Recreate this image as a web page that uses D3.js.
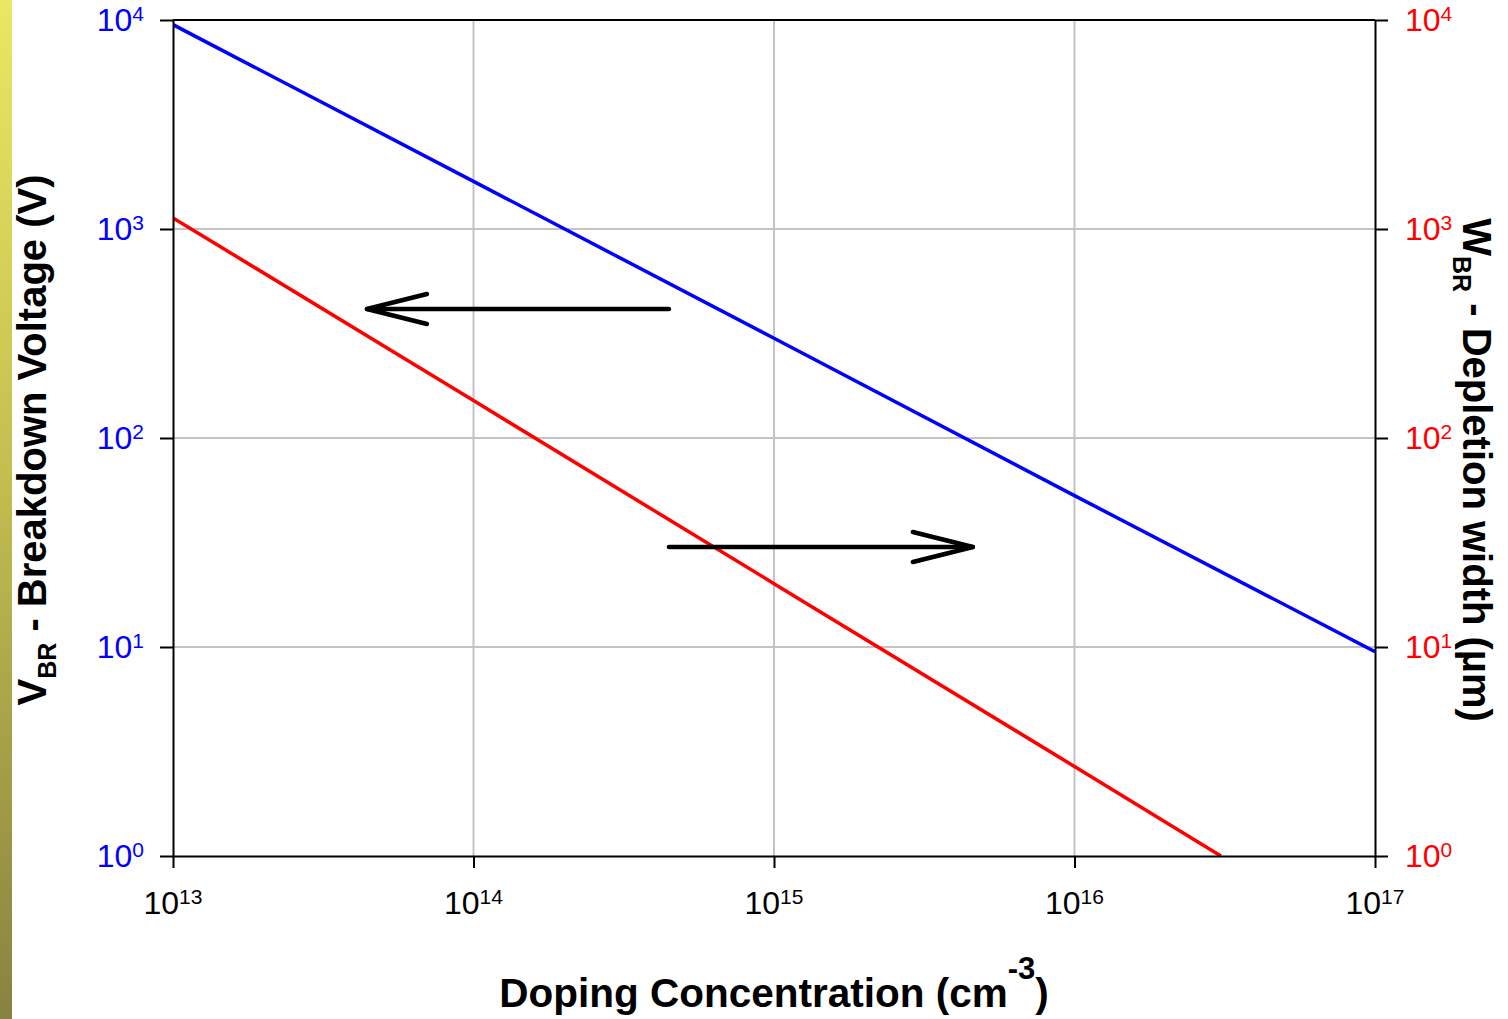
<!DOCTYPE html>
<html>
<head>
<meta charset="utf-8">
<script src="https://cdn.jsdelivr.net/npm/d3@7"></script>
<style>
  html, body { margin: 0; padding: 0; background: #fff; }
  svg { display: block; font-family: "Liberation Sans", Arial, Helvetica, sans-serif; }
</style>
</head>
<body>
<svg id="chart" width="1508" height="1019"></svg>
<script>
// Doping concentration (cm^-3) at which each curve is sampled
const voltageDoping = [1e13, 1e14, 1e15, 1e16, 1e17];
// Breakdown voltage V_BR (V), left axis
const breakdownVoltage = [9500, 1690, 300, 53, 9.5];

const widthDoping = [1e13, 1e14, 1e15, 1e16, 3.07e16];
// Depletion width at breakdown W_BR (um), right axis
const depletionWidth = [1130, 151, 20.1, 2.68, 1.0];

// Axis ticks (powers of ten)
const xTickExponents = [13, 14, 15, 16, 17];
const yTickExponents = [0, 1, 2, 3, 4];

// Annotation arrows: [from doping, to doping, level]
const leftArrow = { from: 4.47e14, to: 4.42e13, level: 414 };
const rightArrow = { from: 4.47e14, to: 4.59e15, level: 30.1 };

const W = 1508, H = 1019;
const plot = { left: 173, right: 1375, top: 20, bottom: 856 };
const font = '"Liberation Sans", Arial, Helvetica, sans-serif';

const svg = d3.select('#chart');

// Side strip gradient
const defs = svg.append('defs');
const grad = defs.append('linearGradient')
  .attr('id', 'stripGrad').attr('x1', 0).attr('y1', 0).attr('x2', 0).attr('y2', 1);
grad.append('stop').attr('offset', '0%').attr('stop-color', '#e9e862');
grad.append('stop').attr('offset', '45%').attr('stop-color', '#c4c050');
grad.append('stop').attr('offset', '100%').attr('stop-color', '#878340');
svg.append('rect').attr('x', 0).attr('y', 0).attr('width', 12).attr('height', H)
  .attr('fill', 'url(#stripGrad)');

defs.append('clipPath').attr('id', 'plotClip')
  .append('rect')
  .attr('x', plot.left).attr('y', plot.top)
  .attr('width', plot.right - plot.left).attr('height', plot.bottom - plot.top);

const x = d3.scaleLog().domain([1e13, 1e17]).range([plot.left, plot.right]);
const yLeft = d3.scaleLog().domain([1, 1e4]).range([plot.bottom, plot.top]);
const yRight = d3.scaleLog().domain([1, 1e4]).range([plot.bottom, plot.top]);

const xTicks = xTickExponents.map(e => Math.pow(10, e));
const yTicks = yTickExponents.map(e => Math.pow(10, e));

// Grid lines
const grid = svg.append('g').attr('stroke', '#c3c3c3').attr('stroke-width', 2);
grid.selectAll('line.v').data(xTicks.slice(1, -1)).join('line')
  .attr('x1', d => x(d)).attr('x2', d => x(d))
  .attr('y1', plot.top).attr('y2', plot.bottom);
grid.selectAll('line.h').data(yTicks.slice(1, -1)).join('line')
  .attr('y1', d => yLeft(d)).attr('y2', d => yLeft(d))
  .attr('x1', plot.left).attr('x2', plot.right);

// Curves
const lineV = d3.line().x(d => x(d[0])).y(d => yLeft(d[1]));
const lineW = d3.line().x(d => x(d[0])).y(d => yRight(d[1]));
const curves = svg.append('g').attr('clip-path', 'url(#plotClip)');
curves.append('path')
  .datum(voltageDoping.map((n, i) => [n, breakdownVoltage[i]]))
  .attr('d', lineV).attr('fill', 'none').attr('stroke', '#0000ff').attr('stroke-width', 3.5);
curves.append('path')
  .datum(widthDoping.map((n, i) => [n, depletionWidth[i]]))
  .attr('d', lineW).attr('fill', 'none').attr('stroke', '#ff0000').attr('stroke-width', 3.5);

// Axes
function styleAxis(g) {
  g.selectAll('path.domain').attr('stroke', '#000').attr('stroke-width', 2);
  g.selectAll('.tick line').attr('stroke', '#000').attr('stroke-width', 2);
  g.selectAll('.tick text').remove();
}
svg.append('g').attr('transform', `translate(0,${plot.bottom})`)
  .call(d3.axisBottom(x).tickValues(xTicks).tickSize(12).tickSizeOuter(0).tickFormat(''))
  .call(styleAxis);
svg.append('g').attr('transform', `translate(${plot.left},0)`)
  .call(d3.axisLeft(yLeft).tickValues(yTicks).tickSize(13).tickSizeOuter(0).tickFormat(''))
  .call(styleAxis);
svg.append('g').attr('transform', `translate(${plot.right},0)`)
  .call(d3.axisRight(yRight).tickValues(yTicks).tickSize(13).tickSizeOuter(0).tickFormat(''))
  .call(styleAxis);
svg.append('line')
  .attr('x1', plot.left).attr('x2', plot.right).attr('y1', plot.top).attr('y2', plot.top)
  .attr('stroke', '#000').attr('stroke-width', 2);

// Power-of-ten tick labels
function powerLabel(g, exp, anchor, color) {
  const t = g.append('text').attr('text-anchor', anchor).attr('fill', color)
    .attr('font-family', font).attr('font-size', 32);
  t.append('tspan').text('10');
  t.append('tspan').attr('font-size', 21).attr('dy', -10).text(String(exp));
  return t;
}
const labels = svg.append('g');
xTickExponents.forEach(e => {
  powerLabel(labels, e, 'middle', '#000')
    .attr('x', x(Math.pow(10, e))).attr('y', plot.bottom + 58);
});
yTickExponents.forEach(e => {
  powerLabel(labels, e, 'end', '#0000ff')
    .attr('x', plot.left - 29).attr('y', yLeft(Math.pow(10, e)) + 11);
  powerLabel(labels, e, 'start', '#ff0000')
    .attr('x', plot.right + 30).attr('y', yRight(Math.pow(10, e)) + 11);
});

// Axis titles
const xTitle = svg.append('text')
  .attr('x', (plot.left + plot.right) / 2).attr('y', 1007)
  .attr('text-anchor', 'middle').attr('font-family', font)
  .attr('font-weight', 'bold').attr('font-size', 40.5).attr('fill', '#000');
xTitle.append('tspan').text('Doping Concentration (cm');
xTitle.append('tspan').attr('font-size', 31).attr('dy', -28).text('-3');
xTitle.append('tspan').attr('dy', 28).text(')');

const yTitle = svg.append('text')
  .attr('transform', `translate(46,${(plot.top + plot.bottom) / 2 + 2}) rotate(-90)`)
  .attr('text-anchor', 'middle').attr('font-family', font)
  .attr('font-weight', 'bold').attr('font-size', 40).attr('fill', '#000');
yTitle.append('tspan').text('V');
yTitle.append('tspan').attr('font-size', 25).attr('dy', 10).text('BR');
yTitle.append('tspan').attr('dy', -10).text(' - Breakdown Voltage (V)');

const y2Title = svg.append('text')
  .attr('transform', `translate(1463,${(plot.top + plot.bottom) / 2 + 32}) rotate(90)`)
  .attr('text-anchor', 'middle').attr('font-family', font)
  .attr('font-weight', 'bold').attr('font-size', 40).attr('fill', '#000');
y2Title.append('tspan').text('W');
y2Title.append('tspan').attr('font-size', 25).attr('dy', 10).text('BR');
y2Title.append('tspan').attr('dy', -10).text(' - Depletion width (\u00b5m)');

// Arrows pointing to the axis each curve belongs to
function arrow(a, yScale) {
  const x0 = x(a.from), x1 = x(a.to), yy = yScale(a.level);
  const dir = Math.sign(x1 - x0);
  const g = svg.append('g').attr('stroke', '#000').attr('stroke-width', 4.5)
    .attr('stroke-linecap', 'round').attr('fill', 'none');
  g.append('line').attr('x1', x0).attr('y1', yy).attr('x2', x1).attr('y2', yy);
  g.append('polyline').attr('stroke-linejoin', 'round')
    .attr('points', [[x1 - dir * 60, yy - 15], [x1, yy], [x1 - dir * 60, yy + 15]].map(p => p.join(',')).join(' '));
}
arrow(leftArrow, yLeft);
arrow(rightArrow, yRight);
</script>
</body>
</html>
